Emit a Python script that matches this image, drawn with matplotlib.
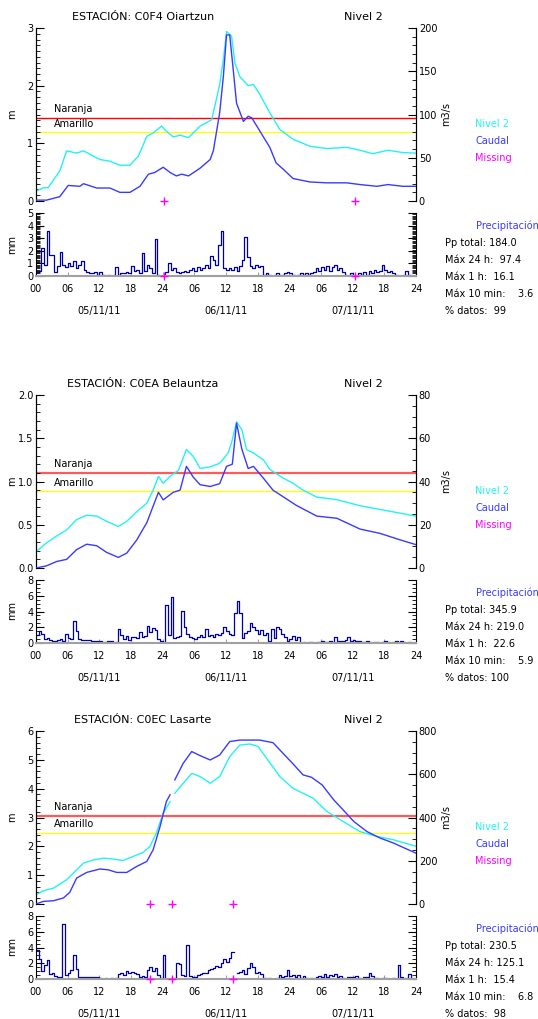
import numpy as np
import matplotlib
matplotlib.use("Agg")
import matplotlib.pyplot as plt
from matplotlib.ticker import MultipleLocator

# ---- data (hours from 05/11/11 00:00) ----
hour_labels = ["00", "06", "12", "18", "24", "06", "12", "18", "24", "06", "12", "18", "24"]
day_labels = ["05/11/11", "06/11/11", "07/11/11"]
day_centers = [12, 36, 60]

# C0F4 Oiartzun
oia_lvl_h = [0, 1.4, 2.3, 4.5, 5.8, 7.7, 9, 12.1, 14, 15.9, 17.8, 19.4, 21.0, 22.2, 23.8, 24.7, 26, 27.3, 28.9, 31.1,
             33.3, 34.8, 35.5, 36.1, 37.05, 37.7, 38.6, 40.2, 41.2, 42.4, 44.3, 46.2, 48.7, 51.9, 55.1, 58.9, 61.4,
             63.8, 66.7, 69.5, 72]
oia_lvl = [0.17, 0.23, 0.23, 0.52, 0.87, 0.83, 0.87, 0.72, 0.69, 0.62, 0.62, 0.78, 1.12, 1.18, 1.30, 1.21, 1.11, 1.14,
           1.10, 1.30, 1.41, 2.02, 2.45, 2.94, 2.86, 2.39, 2.16, 2.00, 2.02, 1.85, 1.53, 1.24, 1.07, 0.95, 0.91, 0.93,
           0.88, 0.82, 0.88, 0.84, 0.83]
oia_q_h = [0, 2, 4.5, 6.1, 8.3, 9, 11.5, 14, 15.9, 17.8, 19.7, 21.3, 22.5, 24.1, 25.4, 26.6, 27.6, 28.9, 31.1, 33,
           33.6, 34.8, 35.5, 36.1, 36.7, 37.4, 38, 39.3, 40.2, 40.9, 42.4, 44.3, 45.5, 46.8, 48.7, 51.9, 55.1, 58.9,
           61.4, 64.6, 66.7, 69.5, 72]
oia_q = [1, 1, 5, 18, 17, 20, 15, 15, 10, 10, 17, 31, 33, 39, 33, 29, 31, 29, 38, 48, 58, 102, 144, 192, 192, 150,
         113, 92, 98, 96, 81, 62, 44, 37, 26, 22, 21, 21, 19, 17, 19, 17, 17]
oia_missing = [24.2, 60.4]
oia_pp = [0.3, 0.4, 2.2, 0.9, 3.6, 1.7, 1.7, 0.3, 0.8, 1.9, 0.9, 0.7, 1.0, 0.8, 1.2, 0.6, 0.9, 1.2, 0.5, 0.3,
          0.2, 0.2, 0.3, 0.1, 0.3, 0.1, 0.0, 0.1, 0.0, 0.1, 0.7, 0.1, 0.2, 0.2, 0.3, 0.2, 0.8, 0.4, 0.5, 0.2,
          1.8, 0.4, 0.9, 0.6, 0.2, 2.9, 0.1, 0.0, 0.0, 0.3, 1.0, 0.5, 0.6, 0.3, 0.2, 0.3, 0.4, 0.3, 0.5, 0.6,
          0.4, 0.7, 0.5, 0.6, 0.9, 0.6, 1.6, 1.3, 0.9, 2.5, 3.6, 0.6, 0.5, 0.6, 0.5, 0.7, 0.4, 0.8, 1.3, 3.1,
          1.5, 0.8, 0.6, 0.9, 0.7, 0.8, 0.1, 0.2, 0.1, 0.0, 0.1, 0.2, 0.1, 0.1, 0.2, 0.3, 0.2, 0.1, 0.0, 0.1,
          0.2, 0.1, 0.2, 0.1, 0.2, 0.3, 0.6, 0.4, 0.7, 0.5, 0.8, 0.4, 0.7, 0.9, 0.5, 0.6, 0.3, 0.1, 0.0, 0.2,
          0.0, 0.1, 0.2, 0.1, 0.3, 0.1, 0.4, 0.2, 0.5, 0.3, 0.4, 0.9, 0.5, 0.3, 0.4, 0.2, 0.1, 0.0, 0.0, 0.1,
          0.4, 0.1, 0.0, 0.0]
oia_stats = ["Pp total: 184.0", "Máx 24 h:  97.4", "Máx 1 h:  16.1", "Máx 10 min:    3.6", "% datos:  99"]

# C0EA Belauntza
bel_lvl_h = [0, 2, 3.9, 5.8, 7.7, 9.6, 11.5, 13.4, 15.6, 17.2, 19.1, 21.0, 22.2, 23.2, 24.1, 25.4, 27, 28.5, 29.8,
             31.1, 33, 34.8, 36.4, 37.1, 38, 39, 39.9, 41.2, 43.1, 44.3, 46.8, 48.7, 50.6, 53.2, 57, 61.4, 65.8, 72]
bel_lvl = [0.19, 0.29, 0.37, 0.44, 0.56, 0.61, 0.60, 0.54, 0.48, 0.54, 0.65, 0.75, 0.90, 1.06, 0.98, 1.06, 1.13, 1.37,
           1.29, 1.15, 1.17, 1.21, 1.33, 1.46, 1.69, 1.60, 1.37, 1.33, 1.25, 1.14, 1.04, 0.98, 0.90, 0.82, 0.79, 0.72,
           0.67, 0.60]
bel_q_h = [0, 2, 3.9, 5.8, 7.7, 9.6, 11.5, 13.4, 15.6, 17.2, 19.1, 21.0, 23.2, 24.1, 26, 27.3, 28.5, 29.8, 31.1, 33,
           34.8, 36.1, 37.2, 38, 39, 40.2, 41.2, 43.1, 44.9, 46.8, 49.3, 53.2, 57, 61.4, 65.2, 69, 72]
bel_q = [0, 1, 3, 4, 8.5, 11, 10.3, 7.2, 4.9, 6.9, 13, 21, 35, 31.5, 35, 36, 47, 42, 38.5, 37.7, 39, 47, 48, 67, 55,
         46, 47, 41.5, 36, 33, 29, 24, 23, 18, 16, 13, 10.8]
bel_missing = []
bel_pp = [1.0, 1.5, 1.2, 0.5, 0.6, 0.4, 0.3, 0.3, 0.4, 0.5, 0.3, 1.2, 0.6, 0.5, 2.8, 1.5, 0.5, 0.4, 0.4, 0.4,
          0.4, 0.3, 0.3, 0.2, 0.2, 0.1, 0.1, 0.3, 0.2, 0.0, 0.1, 1.8, 1.0, 0.5, 0.9, 0.4, 0.7, 0.8, 0.6, 1.4,
          0.7, 0.9, 2.1, 1.4, 1.9, 1.6, 0.5, 0.2, 0.0, 4.8, 1.0, 5.9, 0.6, 0.7, 0.9, 4.1, 2.0, 1.2, 0.8, 0.6,
          0.5, 0.8, 1.0, 0.7, 1.8, 0.9, 1.0, 0.8, 1.2, 1.0, 1.3, 2.0, 1.5, 1.2, 1.0, 3.8, 5.3, 3.8, 0.6, 1.3,
          1.5, 2.6, 2.0, 1.6, 1.2, 1.7, 1.0, 1.3, 0.2, 1.8, 0.6, 2.0, 1.8, 1.2, 0.8, 0.3, 0.5, 0.9, 0.4, 0.8,
          0.0, 0.1, 0.0, 0.1, 0.1, 0.0, 0.1, 0.1, 0.2, 0.1, 0.1, 0.2, 0.1, 0.8, 0.3, 0.2, 0.3, 0.4, 0.7, 0.2,
          0.4, 0.3, 0.2, 0.1, 0.1, 0.2, 0.1, 0.0, 0.1, 0.1, 0.0, 0.1, 0.3, 0.1, 0.0, 0.1, 0.2, 0.0, 0.3, 0.1,
          0.0, 0.1, 0.0, 0.0]
bel_stats = ["Pp total: 345.9", "Máx 24 h: 219.0", "Máx 1 h:  22.6", "Máx 10 min:    5.9", "% datos: 100"]

# C0EC Lasarte
las_lvl_h = [0, 1.4, 3.3, 5.8, 7.4, 9, 10.9, 12.8, 14.6, 16.5, 18.4, 20.3, 21.6, 22.8, 24.1, 25.4, 25.8, 26.3, 27.9,
             29.5, 31.1, 33, 34.8, 36.7, 38.6, 40.5, 42.1, 44.3, 46.2, 48.7, 50.6, 52.5, 55.1, 58.2, 61.4, 64.6, 67.7, 72]
las_lvl = [0.32, 0.46, 0.55, 0.84, 1.13, 1.42, 1.53, 1.59, 1.56, 1.51, 1.65, 1.79, 2.0, 2.46, 3.15, 3.55, np.nan,
           3.84, 4.19, 4.53, 4.42, 4.19, 4.42, 5.11, 5.51, 5.55, 5.46, 4.9, 4.42, 4.01, 3.84, 3.67, 3.21, 2.86, 2.51,
           2.34, 2.23, 2.0]
las_q_h = [0, 1.4, 3.3, 5.2, 6.4, 7.7, 9.6, 12.1, 13.7, 15.3, 17.2, 19.1, 21.0, 22.2, 23.5, 24.7, 25.4, 25.8, 26.3,
           27.9, 29.5, 31.1, 33, 34.8, 36.7, 38.6, 42.4, 44.9, 46.8, 48.7, 50.6, 52.2, 54.2, 56.4, 58.2, 60.2, 62.7,
           65.2, 67.7, 72]
las_q = [0, 12, 15, 28, 54, 120, 146, 162, 158, 146, 146, 174, 197, 251, 358, 474, 505, np.nan, 574, 651, 705, 686,
         666, 689, 751, 758, 758, 746, 697, 648, 597, 586, 551, 482, 435, 382, 335, 305, 282, 235]
las_missing = [21.6, 25.8, 37.3]
las_pp = [3.7, 2.5, 1.0, 1.8, 2.4, 0.6, 0.8, 0.4, 0.3, 0.2, 7.0, 0.5, 0.8, 1.2, 3.0, 1.3, 0.2, 0.2, 0.3, 0.2,
          0.2, 0.3, 0.2, 0.2, 0.1, 0.0, 0.1, 0.0, 0.1, 0.0, 0.1, 0.6, 0.8, 0.5, 1.0, 0.7, 0.9, 0.8, 0.6, 0.3,
          0.4, 0.3, 1.2, 1.5, 1.0, 1.4, 0.5, 0.1, 3.1, 0.0, 0.0, 0.1, 0.1, 2.0, 1.9, 0.5, 0.4, 4.3, 0.4, 0.2,
          0.3, 0.5, 0.6, 0.8, 0.7, 1.1, 1.3, 1.4, 1.6, 1.5, 2.0, 2.5, 2.1, 2.7, 3.4, np.nan, 0.8, 0.9, 1.1, 0.6,
          1.4, 2.0, 1.5, 0.8, 0.9, 0.6, 0.1, 0.0, 0.1, 0.0, 0.0, 0.1, 0.5, 0.3, 0.4, 1.1, 0.4, 0.5, 0.3, 0.5,
          0.1, 0.4, 0.1, 0.0, 0.1, 0.0, 0.3, 0.4, 0.3, 0.6, 0.3, 0.5, 0.4, 0.6, 0.3, 0.4, 0.1, 0.0, 0.3, 0.2,
          0.3, 0.4, 0.1, 0.0, 0.3, 0.2, 0.7, 0.4, 0.1, 0.1, 0.0, 0.1, 0.1, 0.0, 0.0, 0.1, 0.0, 1.8, 0.2, 0.0,
          0.1, 0.6, 0.1, 0.0]
las_stats = ["Pp total: 230.5", "Máx 24 h: 125.1", "Máx 1 h:  15.4", "Máx 10 min:    6.8", "% datos:  98"]

PP_STEP = 0.5  # hours per precipitation value

CYAN = "#22f2f2"
BLUE = "#3a3aff"
NAVY = "#0000a0"
MAGENTA = "#ff00ff"

W, H = 538, 1019
plt.rcParams["font.family"] = "DejaVu Sans"
plt.rcParams["font.size"] = 7
fig = plt.figure(figsize=(W / 100, H / 100), dpi=100)


def px_box(x0, y0, x1, y1):
    return [x0 / W, 1 - y1 / H, (x1 - x0) / W, (y1 - y0) / H]


def ftext(x, y, s, **kw):
    fig.text(x / W, 1 - y / H, s, **kw)


def style_y(ax, major, minor):
    ax.yaxis.set_major_locator(MultipleLocator(major))
    ax.yaxis.set_minor_locator(MultipleLocator(minor))
    ax.tick_params(axis="y", which="major", direction="in", length=6, width=0.8, pad=2)
    ax.tick_params(axis="y", which="minor", direction="in", length=3, width=0.6)


def draw_station(top, name, lvl_h, lvl, lvl_lim, lvl_ticks, lvl_fmt, q_h, q, q_lim, q_ticks,
                 naranja, amarillo, nar_style, missing, pp, pp_lim, pp_ticks, stats):
    ftext(143, top - 11, "ESTACIÓN: " + name, ha="center", va="center", fontsize=8)
    ftext(363, top - 11, "Nivel 2", ha="center", va="center", fontsize=8)

    ax = fig.add_axes(px_box(36, top, 416, top + 173))
    ax.set_xlim(0, 72)
    ax.set_ylim(0, lvl_lim)
    for s in ["top", "bottom"]:
        ax.spines[s].set_visible(False)
    ax.set_xticks([])
    style_y(ax, *lvl_ticks)
    ax.yaxis.set_major_formatter(lvl_fmt)
    ax.axhline(naranja, color=nar_style[0], lw=nar_style[1], zorder=1)
    ax.axhline(amarillo, color="#ffff00", lw=0.9, zorder=1)
    ax.annotate("Naranja", xy=(3.4, naranja), xytext=(0, 2.5), textcoords="offset points",
                va="bottom", ha="left")
    ax.annotate("Amarillo", xy=(3.4, amarillo), xytext=(0, 2.5), textcoords="offset points",
                va="bottom", ha="left")
    ax.plot(lvl_h, lvl, color=CYAN, lw=1.0, zorder=3)
    ax.plot(missing, np.zeros(len(missing)), "+", color=MAGENTA, ms=6, mew=1, clip_on=False, zorder=5)

    ax2 = ax.twinx()
    ax2.set_ylim(0, q_lim)
    for s in ["top", "bottom"]:
        ax2.spines[s].set_visible(False)
    style_y(ax2, *q_ticks)
    ax2.plot(q_h, q, color=BLUE, lw=1.0, zorder=4)

    ftext(12, top + 86, "m", rotation=90, ha="center", va="center")
    ftext(446, top + 86, "m3/s", rotation=90, ha="center", va="center")
    ftext(475, top + 96, "Nivel 2", color=CYAN, va="center")
    ftext(475, top + 113, "Caudal", color=BLUE, va="center")
    ftext(475, top + 130, "Missing", color=MAGENTA, va="center")

    # precipitation panel
    axp = fig.add_axes(px_box(36, top + 185, 416, top + 248))
    axp.set_xlim(0, 72)
    axp.set_ylim(0, pp_lim)
    axp.spines["top"].set_visible(False)
    axp.spines["bottom"].set_color("#a0a0a0")
    axp.spines["bottom"].set_linewidth(1.5)
    t = np.arange(len(pp)) * PP_STEP
    axp.plot(np.append(t, 72), np.append(pp, pp[-1]), drawstyle="steps-post", color=NAVY, lw=0.9)
    axp.plot(missing, np.zeros(len(missing)), "+", color=MAGENTA, ms=6, mew=1, clip_on=False, zorder=5)
    axp.set_xticks(np.arange(0, 73, 6))
    axp.set_xticklabels(hour_labels)
    axp.tick_params(axis="x", direction="in", length=3, color="#a0a0a0", pad=6)
    style_y(axp, *pp_ticks)
    axp.tick_params(axis="y", which="both", left=True, right=True)
    for d, c in zip(day_labels, day_centers):
        axp.annotate(d, xy=(c, 0), xycoords=("data", "axes fraction"), xytext=(0, -35 * 0.72),
                     textcoords="offset points", ha="center", va="center")
    ftext(12, top + 216, "mm", rotation=90, ha="center", va="center")

    ftext(476, top + 198, "Precipitación", color=BLUE, va="center")
    for i, s in enumerate(stats):
        ftext(445, top + 215 + 17 * i, s, va="center")


draw_station(28, "C0F4 Oiartzun", oia_lvl_h, oia_lvl, 3, (1, 0.1), "{x:.0f}",
             oia_q_h, oia_q, 200, (50, 10), 1.44, 1.19, ("#ff0000", 1.0),
             oia_missing, oia_pp, 5, (1, 0.1), oia_stats)
draw_station(395, "C0EA Belauntza", bel_lvl_h, bel_lvl, 2, (0.5, 0.1), "{x:.1f}",
             bel_q_h, bel_q, 80, (20, 5), 1.10, 0.89, ("#ff5a5a", 1.6),
             bel_missing, bel_pp, 8, (2, 0.5), bel_stats)
draw_station(731, "C0EC Lasarte", las_lvl_h, las_lvl, 6, (1, 0.2), "{x:.0f}",
             las_q_h, las_q, 800, (200, 50), 3.06, 2.47, ("#ff5a5a", 1.6),
             las_missing, las_pp, 8, (2, 0.5), las_stats)

fig.savefig("out.png", dpi=100)
